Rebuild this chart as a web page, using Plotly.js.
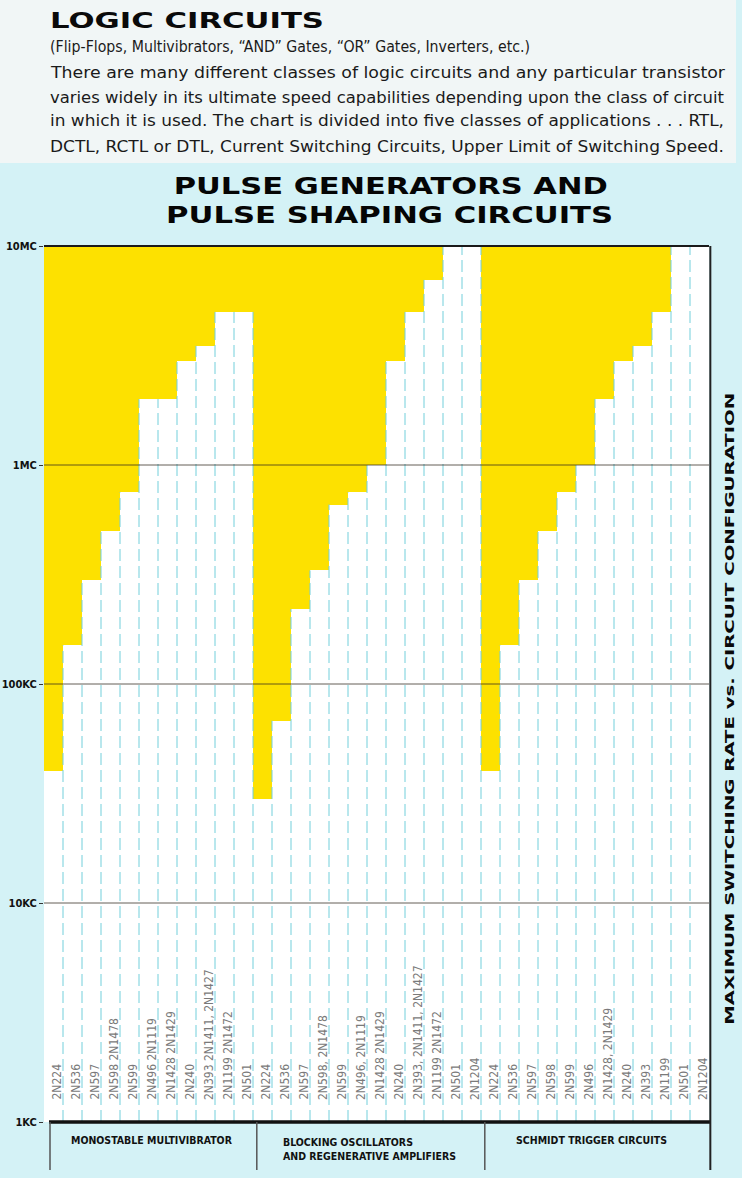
<!DOCTYPE html>
<html><head><meta charset="utf-8">
<script src="https://cdn.plot.ly/plotly-3.0.1.min.js"></script>
<style>html,body{margin:0;padding:0;background:#d4f2f6;}</style>
</head><body><div id="chart" style="width:742px;height:1178px;"></div>
<script>
// ---------------- data ----------------
const groupNames = ['MONOSTABLE MULTIVIBRATOR', 'BLOCKING OSCILLATORS<br>AND REGENERATIVE AMPLIFIERS', 'SCHMIDT TRIGGER CIRCUITS'];
const monoLabels = ['2N224','2N536','2N597','2N598 2N1478','2N599','2N496 2N1119','2N1428 2N1429','2N240','2N393 2N1411, 2N1427','2N1199 2N1472','2N501'];
const monoRates = [40e3,150e3,300e3,500e3,750e3,2e6,2e6,3e6,3.5e6,5e6,5e6];
const blockLabels = ['2N224','2N536','2N597','2N598, 2N1478','2N599','2N496, 2N1119','2N1428 2N1429','2N240','2N393, 2N1411, 2N1427','2N1199 2N1472','2N501','2N1204'];
const blockRates = [30e3,68e3,220e3,330e3,660e3,750e3,1e6,3e6,5e6,7e6,10e6,10e6];
const schmidtLabels = ['2N224','2N536','2N597','2N598','2N599','2N496','2N1428, 2N1429','2N240','2N393','2N1199','2N501','2N1204'];
const schmidtRates = [40e3,150e3,300e3,500e3,750e3,1e6,2e6,3e6,3.5e6,5e6,10e6,10e6];
const yTickVals = [1e3,1e4,1e5,1e6,1e7];
const yTickText = ['1KC','10KC','100KC','1MC','10MC'];
const headTitle = 'LOGIC CIRCUITS';
const introLines = [
  '(Flip-Flops, Multivibrators, “AND” Gates, “OR” Gates, Inverters, etc.)',
  'There are many different classes of logic circuits and any particular transistor',
  'varies widely in its ultimate speed capabilities depending upon the class of circuit',
  'in which it is used. The chart is divided into five classes of applications . . . RTL,',
  'DCTL, RCTL or DTL, Current Switching Circuits, Upper Limit of Switching Speed.'
];
const chartTitleLines = ['PULSE GENERATORS AND', 'PULSE SHAPING CIRCUITS'];
const sideTitle = 'MAXIMUM SWITCHING RATE vs. CIRCUIT CONFIGURATION';

// ---------------- build ----------------
const labels = monoLabels.concat(blockLabels, schmidtLabels);
const rates = monoRates.concat(blockRates, schmidtRates);
const idx = rates.map((_, i) => i);
const groupSizes = [monoLabels.length, blockLabels.length, schmidtLabels.length];
const yMin = yTickVals[0], yMax = yTickVals[yTickVals.length - 1];

const W = 742, H = 1178, ML = 44, MR = 33, MT = 246, MB = 56;
const PW = W - ML - MR, PH = H - MT - MB;
const px = x => (x - ML) / PW;
const py = y => (H - MB - y) / PH;

const YELLOW = '#fde100';
const narrow = 'Liberation Sans Narrow, DejaVu Sans Condensed, sans-serif';
const cond = 'DejaVu Sans Condensed, Liberation Sans Narrow, sans-serif';
const heavy = 'DejaVu Sans, Verdana, sans-serif';

const shapes = [];
const annotations = [];
const stretch = {};

// top light panel
shapes.push({type:'rect', xref:'paper', yref:'paper', x0:px(0), x1:px(736), y0:py(0), y1:py(163),
  fillcolor:'#f1f6f6', line:{width:0}, layer:'below'});
// top border, bottom border, right border
shapes.push({type:'line', xref:'paper', yref:'paper', x0:0, x1:1, y0:1, y1:1, line:{color:'#1a1a1a', width:2}, layer:'above'});
shapes.push({type:'line', xref:'paper', yref:'paper', x0:px(49), x1:1.003, y0:0, y1:0, line:{color:'#111', width:3.5}, layer:'above'});
shapes.push({type:'line', xref:'paper', yref:'paper', x0:1.002, x1:1.002, y0:py(1170), y1:1, line:{color:'#222', width:2}, layer:'above'});
// group separators below axis
let acc = 0;
shapes.push({type:'line', xref:'paper', yref:'paper', x0:px(50), x1:px(50), y0:py(1170), y1:0, line:{color:'#555', width:1.5}});
groupSizes.slice(0, -1).forEach(n => { acc += n; shapes.push({type:'line', xref:'x', yref:'paper', x0:acc-0.3, x1:acc-0.3,
  y0:py(1170), y1:0, line:{color:'#555', width:1.5}}); });

// bar labels
labels.forEach((t, i) => annotations.push({xref:'x', yref:'paper', x:i, xshift:3, xanchor:'center', y:py(1102), yanchor:'bottom',
  text:t, textangle:-90, showarrow:false, font:{family:narrow, size:12, color:'#7a7a7a'}}));

// group names
const gfont = {family:cond, size:10.5, color:'#111', weight:'bold'};
annotations.push({xref:'paper', yref:'paper', x:px(152), xanchor:'center', y:py(1140), yanchor:'middle', text:groupNames[0], showarrow:false, font:gfont});
annotations.push({xref:'paper', yref:'paper', x:px(281), xanchor:'left', y:py(1149), yanchor:'middle', text:groupNames[1], align:'left', showarrow:false, font:gfont});
annotations.push({xref:'paper', yref:'paper', x:px(591), xanchor:'center', y:py(1140), yanchor:'middle', text:groupNames[2], showarrow:false, font:gfont});

// heading
stretch[annotations.length] = {len:274, mode:'left'};
annotations.push({xref:'paper', yref:'paper', x:px(48), xanchor:'left', y:py(21), yanchor:'middle', text:headTitle, showarrow:false,
  font:{family:heavy, size:21, color:'#0a0a0a', weight:'bold'}});
const introY = [47, 72, 97, 121, 146];
const introLen = [480, 674, 674, 674, 674];
introLines.forEach((t, i) => {
  stretch[annotations.length] = {len:introLen[i], mode:'left'};
  annotations.push({xref:'paper', yref:'paper', x:px(48), xanchor:'left', y:py(introY[i]), yanchor:'middle', text:t, showarrow:false,
    font:{family:narrow, size:16.5, color:'#1a1a1a'}});
});
// chart title
const ctY = [186, 215], ctL = [434, 447], ctC = [390, 389];
chartTitleLines.forEach((t, i) => {
  stretch[annotations.length] = {len:ctL[i], mode:'center'};
  annotations.push({xref:'paper', yref:'paper', x:px(ctC[i]), xanchor:'center', y:py(ctY[i]), yanchor:'middle', text:t, showarrow:false,
    font:{family:heavy, size:23, color:'#050505', weight:'bold'}});
});
// side title
stretch[annotations.length] = {len:632, mode:'center'};
annotations.push({xref:'paper', yref:'paper', x:px(729), xanchor:'center', y:py(709), yanchor:'middle', text:sideTitle, textangle:-90, showarrow:false,
  font:{family:heavy, size:13, color:'#0a0a0a', weight:'bold'}});

// divider segments between bars and decade grid lines (drawn through the axes)
const divX = [], divY = [];
for (let i = 0; i < rates.length - 1; i++) {
  divX.push(i + 0.5, i + 0.5, null);
  divY.push(yMin, Math.max(rates[i], rates[i + 1]), null);
}
const gridX = [], gridY = [];
yTickVals.slice(1, -1).forEach(v => { gridX.push(-0.5, rates.length - 0.5, null); gridY.push(v, v, null); });

const data = [
  {type:'bar', x:idx, y:rates, width:1, marker:{color:'#ffffff', line:{width:0}}, hoverinfo:'skip'},
  {type:'scatter', mode:'lines', x:divX, y:divY, line:{color:'#72cfdb', width:1, dash:'12px,5px'}, hoverinfo:'skip', connectgaps:false},
  {type:'scatter', mode:'lines', x:gridX, y:gridY, line:{color:'rgba(50,40,30,0.75)', width:1}, hoverinfo:'skip', connectgaps:false}
];

const layout = {
  width:W, height:H, margin:{l:ML, r:MR, t:MT, b:MB},
  paper_bgcolor:'#d4f2f6', plot_bgcolor:YELLOW, showlegend:false, bargap:0,
  xaxis:{range:[-0.5, rates.length-0.5], showticklabels:false, showgrid:false, zeroline:false, ticks:'', fixedrange:true},
  yaxis:{type:'log', range:[Math.log10(yMin), Math.log10(yMax)], tickvals:yTickVals, ticktext:yTickText, showgrid:false, zeroline:false,
    ticks:'outside', ticklen:4, tickcolor:'#333', tickwidth:1,
    tickfont:{family:cond, size:11, color:'#111', weight:'bold'}},
  shapes:shapes, annotations:annotations
};

Plotly.newPlot('chart', data, layout, {staticPlot:true, displayModeBar:false}).then(() => {
  const nodes = {};
  document.querySelectorAll('g.annotation').forEach(g => { nodes[+g.getAttribute('data-index')] = g.querySelector('text.annotation-text'); });
  Object.keys(stretch).forEach(k => {
    const t = nodes[k]; if (!t) return;
    const s = stretch[k];
    const nat = t.getComputedTextLength();
    const L = s.len;
    const x0 = parseFloat(t.getAttribute('x')) || 0;
    const anchor = t.getAttribute('text-anchor') || 'middle';
    let left = anchor === 'start' ? x0 : anchor === 'end' ? x0 - nat : x0 - nat / 2;
    if (s.mode === 'center') left = left + nat / 2 - L / 2;
    t.setAttribute('text-anchor', 'start'); t.style.textAnchor = 'start';
    t.setAttribute('x', left);
    t.querySelectorAll('tspan').forEach(ts => { if (ts.hasAttribute('x')) ts.setAttribute('x', left); });
    t.setAttribute('textLength', L); t.setAttribute('lengthAdjust', 'spacingAndGlyphs');
  });
});
</script></body></html>
